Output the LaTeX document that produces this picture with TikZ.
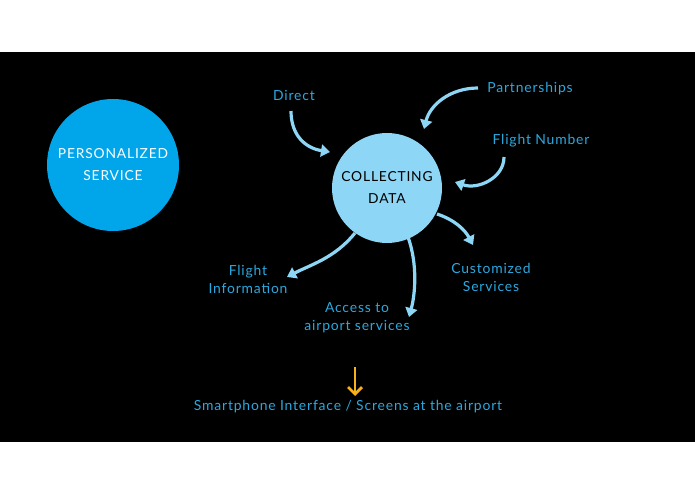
\documentclass[tikz,border=0pt]{standalone}
\usepackage{fontspec}
\setmainfont{Lato}[LetterSpace=6]
\usetikzlibrary{arrows.meta}
\definecolor{txt}{HTML}{2AA9E0}
\definecolor{lb}{HTML}{8ED6F6}
\definecolor{db}{HTML}{00A5EA}
\definecolor{org}{HTML}{F5B21B}
\begin{document}
\begin{tikzpicture}[x=1pt,y=-1pt,
  lbl/.style={text=txt,font=\fontsize{13.9}{18}\selectfont,align=center},
  arr/.style={lb,line width=3.2pt,-{Stealth[length=9pt,width=12pt,inset=0pt]}}]
\useasboundingbox (0,0) rectangle (695,494);
\fill[white] (0,0) rectangle (695,494);
\fill[black] (0,52) rectangle (695,442);
\node[circle,fill=db,minimum size=132pt,text=white,align=center,font=\fontsize{13.8}{22}\selectfont] (ps) at (113,165) {PERSONALIZED\\SERVICE};
\node[circle,fill=lb,minimum size=110pt,text=black,align=center,font=\fontsize{13.8}{22}\selectfont] (cd) at (387,188) {COLLECTING\\DATA};
\node[lbl] (d) at (294,95) {Direct};
\node[lbl] (p) at (530,89) {Partnerships};
\node[lbl] (fn) at (541,141) {Flight Number};
\node[lbl] (cs) at (491,277) {Customized\\Services};
\node[lbl] (fi) at (248,279) {Flight\\Information};
\node[lbl] (ac) at (357,318) {Access to\\airport services};
\node[lbl] (sm) at (348,407) {Smartphone Interface / Screens at the airport};
\coordinate (d1) at (291,111);
\coordinate (d2) at (330,152);
\coordinate (p1) at (478,88);
\coordinate (p2) at (424,129);
\coordinate (f1) at (504,157);
\coordinate (f2) at (455,182);
\coordinate (c1) at (437,214);
\coordinate (c2) at (473,245);
\coordinate (i1) at (355,233);
\coordinate (i2) at (287,277);
\coordinate (a1) at (408,237);
\coordinate (a2) at (409,317);
\coordinate (o1) at (355,367);
\coordinate (o2) at (355,396);
\draw[arr] (d1) .. controls (291,135) and (305,148) .. (d2);
\draw[arr] (p1) .. controls (450,88) and (430,105) .. (p2);
\draw[arr] (f1) .. controls (504,178) and (478,190) .. (f2);
\draw[arr] (c1) .. controls (455,220) and (465,230) .. (c2);
\draw[arr] (i1) .. controls (335,258) and (310,265) .. (i2);
\draw[arr] (a1) .. controls (418,265) and (415,295) .. (a2);
\draw[org,line width=2.8pt,-{Straight Barb[length=7pt,width=14pt]}] (o1) -- (o2);
\end{tikzpicture}
\end{document}
